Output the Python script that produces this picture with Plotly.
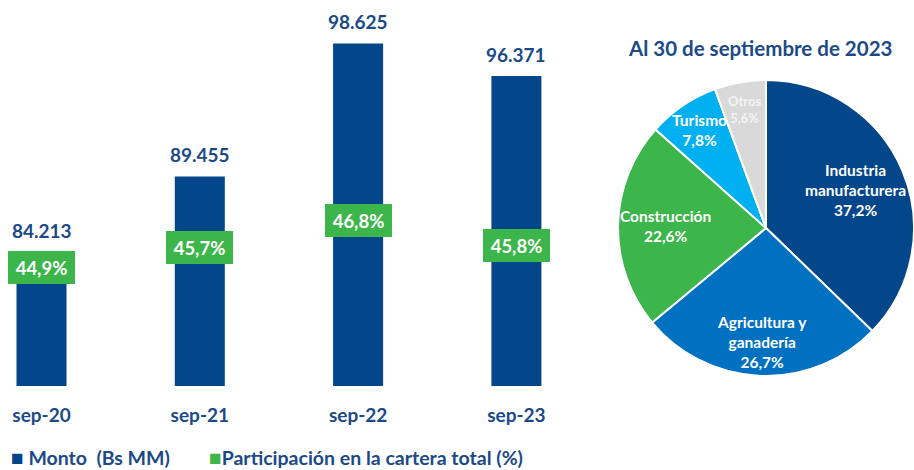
import math
import plotly.graph_objects as go

# ---- data ----
periods = ["sep-20", "sep-21", "sep-22", "sep-23"]
monto = [84.213, 89.455, 98.625, 96.371]
participacion = [44.9, 45.7, 46.8, 45.8]
monto_labels = ["84.213", "89.455", "98.625", "96.371"]
part_labels = ["44,9%", "45,7%", "46,8%", "45,8%"]

sectors = ["Industria<br>manufacturera", "Agricultura y<br>ganadería", "Construcción", "Turismo", "Otros"]
sector_share = [37.2, 26.7, 22.6, 7.8, 5.6]

# ---- style ----
sector_colors = ["#034689", "#0070c0", "#3cb54a", "#00b0f0", "#d9d9d9"]
sector_text_colors = ["#ffffff", "#ffffff", "#ffffff", "#ffffff", "#f4f4f4"]
sector_text_sizes = [15.5, 15.5, 15.5, 15.5, 13]
sector_label_radius = [0.66, 0.77, 0.68, 0.80, 0.81]  # fraction of pie radius

pie_title = "Al 30 de septiembre de 2023"
legend_monto = "Monto  (Bs MM)"
legend_part = "Participación en la cartera total (%)"

BLUE = "#034689"
TXT = "#1b4a86"
GREEN = "#3cb54a"
FONT = "Lato"

W, H = 914, 470
PIE_L, PIE_R, PIE_T, PIE_B = 618, 914, 80, 376

fig = go.Figure()

fig.add_trace(go.Bar(
    x=periods, y=monto, marker=dict(color=BLUE, line=dict(width=0)),
    xaxis="x", yaxis="y", showlegend=False, hoverinfo="skip",
))

# hidden points for participation (positions for the green labels)
fig.add_trace(go.Scatter(
    x=periods, y=participacion, mode="markers", marker=dict(size=1, color=GREEN, opacity=0),
    xaxis="x", yaxis="y2", showlegend=False, hoverinfo="skip",
))

fig.add_trace(go.Pie(
    values=sector_share, labels=[s.replace("<br>", " ") for s in sectors],
    textinfo="none",
    sort=False, direction="clockwise", rotation=0,
    marker=dict(colors=sector_colors, line=dict(color="#ffffff", width=2)),
    domain=dict(x=[PIE_L / W, PIE_R / W], y=[1 - PIE_B / H, 1 - PIE_T / H]),
    showlegend=False, hoverinfo="label+percent",
))

annotations = []
for p, v, t in zip(periods, monto, monto_labels):
    annotations.append(dict(
        x=p, y=v, xref="x", yref="y", text=t, showarrow=False,
        yanchor="middle", yshift=22,
        font=dict(family=FONT, size=19, color=TXT, weight="bold"),
    ))
for p, v, t in zip(periods, participacion, part_labels):
    annotations.append(dict(
        x=p, y=v, xref="x", yref="y2", text=t, showarrow=False,
        yanchor="middle", xanchor="center",
        bgcolor=GREEN, borderpad=2, borderwidth=0, width=63, height=29,
        font=dict(family=FONT, size=18.5, color="#ffffff", weight="bold"),
    ))

# pie slice labels, placed at each slice's mid-angle (computed from the data)
cx, cy = (PIE_L + PIE_R) / 2, (PIE_T + PIE_B) / 2
rad = min(PIE_R - PIE_L, PIE_B - PIE_T) / 2
total = sum(sector_share)
cum = 0.0
for s, v, col, fs, rf in zip(sectors, sector_share, sector_text_colors,
                             sector_text_sizes, sector_label_radius):
    mid = (cum + v / 2) / total * 2 * math.pi
    cum += v
    px = cx + rf * rad * math.sin(mid)
    py = cy - rf * rad * math.cos(mid)
    label = f"{s}<br>{v:.1f}".replace(".", ",") + "%"
    annotations.append(dict(
        x=px / W, y=1 - py / H, xref="paper", yref="paper", text=label,
        showarrow=False, xanchor="center", yanchor="middle", align="center",
        font=dict(family=FONT, size=fs, color=col, weight="bold"),
    ))

annotations.append(dict(
    x=760 / W, y=1 - 48 / H, xref="paper", yref="paper", text=pie_title,
    showarrow=False, xanchor="center", yanchor="middle",
    font=dict(family=FONT, size=20.5, color=TXT, weight="bold"),
))
annotations.append(dict(
    x=9 / W, y=1 - 456 / H, xref="paper", yref="paper",
    text=f"<span style='color:{BLUE};font-size:21px'>■</span> {legend_monto}",
    showarrow=False, xanchor="left", yanchor="middle",
    font=dict(family=FONT, size=19.5, color=TXT, weight="bold"),
))
annotations.append(dict(
    x=207 / W, y=1 - 456 / H, xref="paper", yref="paper",
    text=f"<span style='color:{GREEN};font-size:21px'>■</span>{legend_part}",
    showarrow=False, xanchor="left", yanchor="middle",
    font=dict(family=FONT, size=19.5, color=TXT, weight="bold"),
))

spacing = 158.3
x0 = 41.5
dom_w = 0.63 * W
fig.update_layout(
    width=W, height=H,
    margin=dict(l=0, r=0, t=0, b=0),
    paper_bgcolor="#ffffff", plot_bgcolor="#ffffff",
    bargap=0.684,
    xaxis=dict(domain=[0, 0.63], type="category",
               range=[-x0 / spacing, -x0 / spacing + dom_w / spacing],
               showgrid=False, zeroline=False, showline=False,
               ticks="outside", ticklen=12, tickcolor="rgba(0,0,0,0)",
               tickfont=dict(family=FONT, size=19, color=TXT, weight="bold")),
    yaxis=dict(domain=[1 - 386 / H, 1], range=[75, 75 + 386 / 14.5],
               visible=False, showgrid=False, zeroline=False),
    yaxis2=dict(domain=[1 - 386 / H, 1], overlaying="y", range=[40.12, 55.70],
                visible=False, showgrid=False, zeroline=False),
    annotations=annotations,
    showlegend=False,
)

fig.write_html(
    "out.html",
    config={"displayModeBar": False},
    post_script="document.body.style.margin='0';document.body.style.overflow='hidden';",
)
